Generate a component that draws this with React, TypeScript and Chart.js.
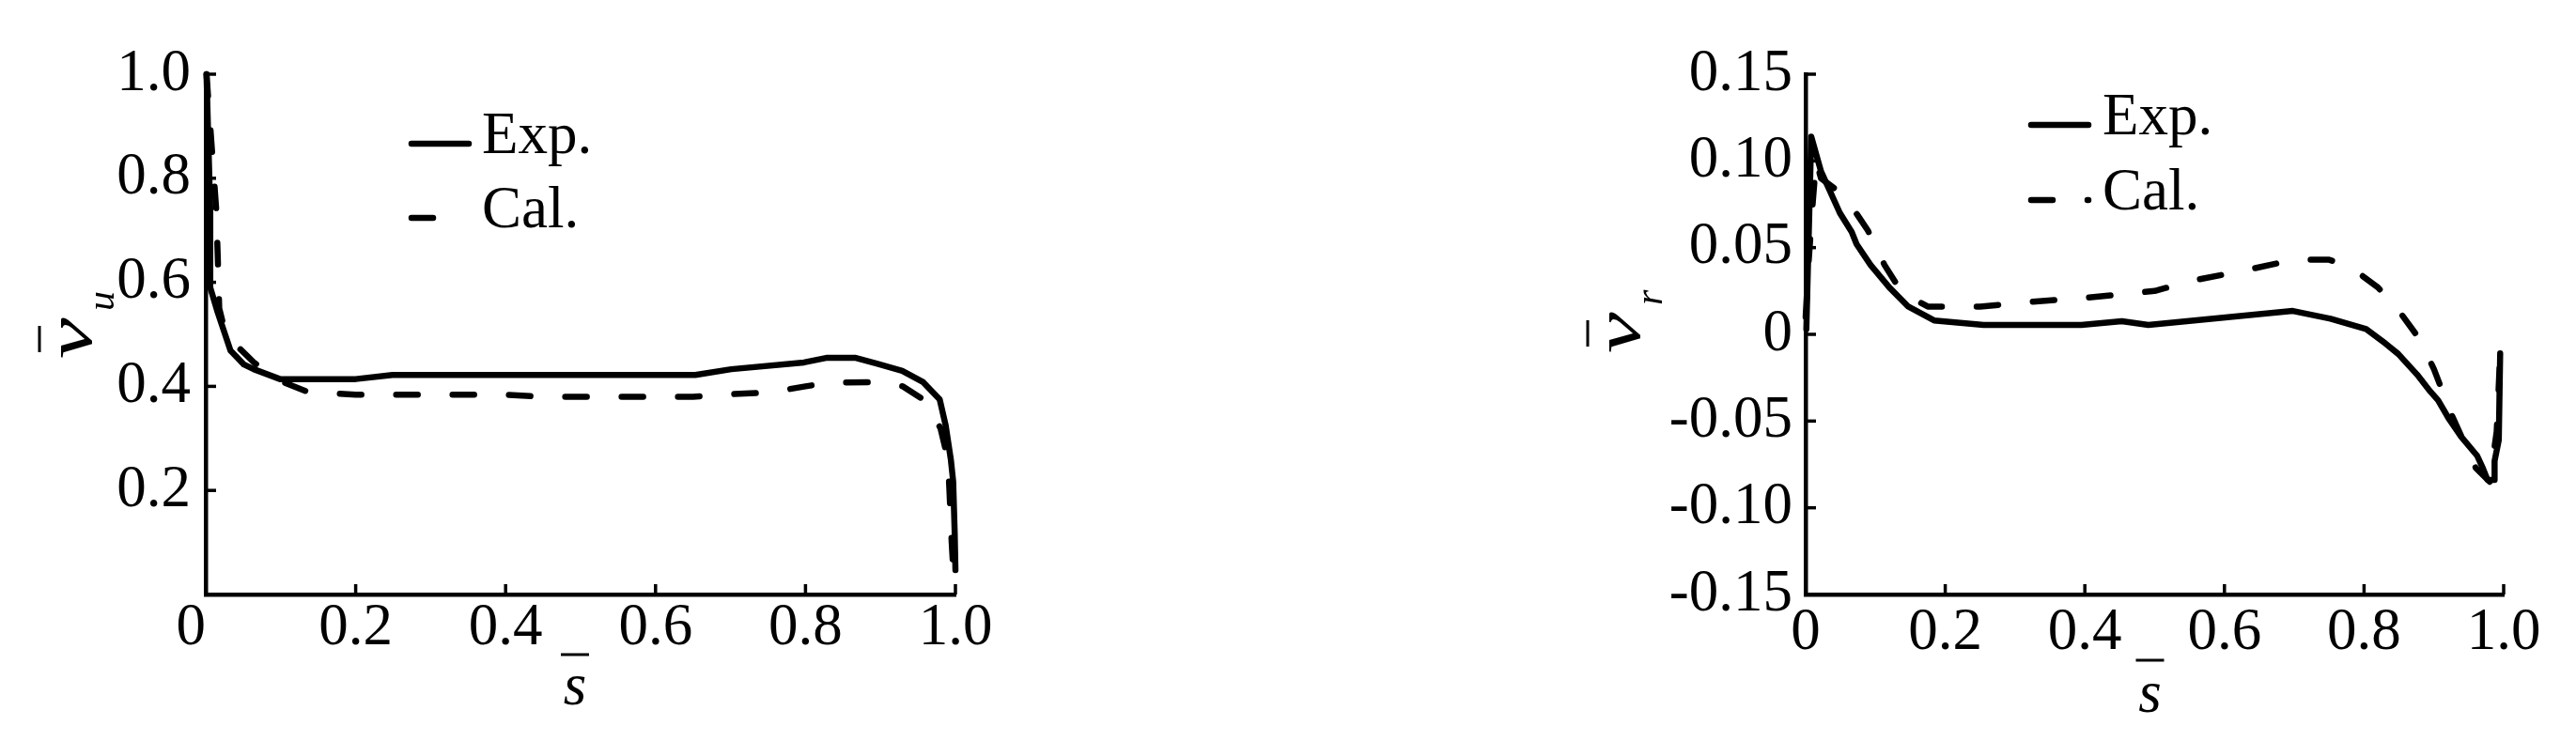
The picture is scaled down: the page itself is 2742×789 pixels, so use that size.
import React, { useEffect, useRef } from 'react';
import { Chart, registerables } from 'chart.js';
Chart.register(...registerables);

const FONT = "'Liberation Serif', 'Times New Roman', serif";

// ---- left panel: circumferential velocity  v_u ----
const uExpS = [0.001, 0.006, 0.006, 0.016, 0.033, 0.051, 0.064, 0.099, 0.2, 0.249, 0.653, 0.701, 0.798, 0.829, 0.866, 0.895, 0.929, 0.957, 0.979, 0.987, 0.994, 0.997, 0.999, 1.0];
const uExpV = [1.0, 0.74, 0.59, 0.542, 0.469, 0.442, 0.433, 0.414, 0.414, 0.422, 0.422, 0.433, 0.446, 0.455, 0.455, 0.444, 0.43, 0.408, 0.375, 0.325, 0.258, 0.217, 0.119, 0.047];
const uCalS = [0.001, 0.014, 0.016, 0.018, 0.025, 0.04, 0.065, 0.1, 0.135, 0.2, 0.3, 0.4, 0.45, 0.5, 0.6, 0.65, 0.7, 0.75, 0.8, 0.83, 0.89, 0.93, 0.957, 0.98, 0.99, 0.992, 0.995, 0.997];
const uCalV = [1.0, 0.74, 0.65, 0.55, 0.51, 0.48, 0.445, 0.41, 0.39, 0.384, 0.384, 0.384, 0.38, 0.38, 0.38, 0.38, 0.385, 0.388, 0.4, 0.407, 0.408, 0.4, 0.375, 0.32, 0.26, 0.2, 0.1, 0.05];

// ---- right panel: radial velocity  v_r ----
const rExpS = [0.001, 0.008, 0.022, 0.049, 0.066, 0.073, 0.093, 0.12, 0.147, 0.184, 0.255, 0.395, 0.453, 0.491, 0.698, 0.752, 0.803, 0.831, 0.849, 0.876, 0.895, 0.906, 0.922, 0.939, 0.962, 0.97, 0.977, 0.987, 0.987, 0.993, 0.995];
const rExpV = [0.003, 0.114, 0.094, 0.07, 0.059, 0.052, 0.04, 0.027, 0.016, 0.008, 0.0054, 0.0054, 0.0076, 0.0054, 0.0135, 0.009, 0.003, -0.0054, -0.0113, -0.0232, -0.033, -0.038, -0.049, -0.059, -0.07, -0.077, -0.084, -0.084, -0.073, -0.061, -0.011];
const rCalS = [0.0, 0.004, 0.01, 0.015, 0.022, 0.045, 0.074, 0.089, 0.113, 0.138, 0.175, 0.215, 0.25, 0.33, 0.4, 0.45, 0.5, 0.555, 0.63, 0.7, 0.75, 0.78, 0.82, 0.85, 0.88, 0.9, 0.925, 0.96, 0.98, 0.99, 0.995];
const rCalV = [0.01, 0.04, 0.075, 0.1, 0.09, 0.083, 0.069, 0.06, 0.04, 0.024, 0.016, 0.016, 0.016, 0.019, 0.021, 0.023, 0.025, 0.031, 0.037, 0.043, 0.043, 0.039, 0.027, 0.0135, -0.003, -0.02, -0.046, -0.077, -0.085, -0.056, -0.011];

const seriesLabels = ['Exp.', 'Cal.'];

const zip = (xs: number[], ys: number[]) => xs.map((x, i) => ({ x, y: ys[i] }));

const decorPlugin = {
  id: 'decor',
  afterDraw(chart: any, _args: any, o: any) {
    const { ctx, chartArea: ca, scales } = chart;
    const xs = scales.x;
    const ys = scales.y;
    ctx.save();
    ctx.strokeStyle = '#000';
    ctx.fillStyle = '#000';
    // inward tick marks
    ctx.lineWidth = 3.5;
    ctx.lineCap = 'butt';
    ys.ticks.forEach((t: any) => {
      const py = ys.getPixelForValue(t.value);
      ctx.beginPath();
      ctx.moveTo(ca.left, py);
      ctx.lineTo(ca.left + o.tickLen, py);
      ctx.stroke();
    });
    xs.ticks.forEach((t: any) => {
      const px = xs.getPixelForValue(t.value);
      ctx.beginPath();
      ctx.moveTo(px, ca.bottom);
      ctx.lineTo(px, ca.bottom - o.tickLen);
      ctx.stroke();
    });
    // legend
    const lg = o.legend;
    ctx.font = `63px ${FONT}`;
    ctx.textAlign = 'left';
    ctx.textBaseline = 'alphabetic';
    chart.data.datasets.forEach((ds: any, i: number) => {
      const ly = ca.top + lg.dy + i * lg.rowGap;
      const lx = ca.left + lg.dx;
      ctx.save();
      ctx.lineWidth = ds.borderWidth;
      ctx.lineCap = 'round';
      ctx.setLineDash(ds.borderDash || []);
      ctx.beginPath();
      ctx.moveTo(lx, ly);
      ctx.lineTo(lx + (ds.borderDash ? lg.dashLen : lg.solidLen), ly);
      ctx.stroke();
      ctx.restore();
      ctx.fillText(ds.label, ca.left + lg.textDx, ly + 10);
    });
    // x title: s with overbar
    const xt = o.xTitle;
    const cx = (ca.left + ca.right) / 2 + xt.dx;
    ctx.lineWidth = 3;
    ctx.beginPath();
    ctx.moveTo(cx - 15, ca.bottom + xt.barDy);
    ctx.lineTo(cx + 15, ca.bottom + xt.barDy);
    ctx.stroke();
    ctx.font = `italic 63px ${FONT}`;
    ctx.textAlign = 'center';
    ctx.fillText('s', cx, ca.bottom + xt.sDy);
    // y title: v with overbar and subscript
    const yt = o.yTitle;
    const barX = ca.left + yt.barDx;
    ctx.save();
    ctx.translate(barX + 55, yt.Y);
    ctx.rotate(-Math.PI / 2);
    ctx.textAlign = 'left';
    ctx.beginPath();
    ctx.moveTo(7, -55);
    ctx.lineTo(35, -55);
    ctx.stroke();
    ctx.save();
    ctx.scale(1.4, 1);
    ctx.font = `italic 70px ${FONT}`;
    ctx.fillText('v', 0, 0);
    ctx.restore();
    ctx.font = `italic 42px ${FONT}`;
    ctx.fillText(yt.sub, 51, 24);
    ctx.restore();
    ctx.restore();
  },
};

function makeConfig(p: any) {
  const common = {
    borderColor: '#000',
    borderWidth: 6.5,
    pointRadius: 0,
    tension: 0,
    borderJoinStyle: 'round',
    borderCapStyle: 'round',
    clip: false,
    fill: false,
  };
  const tickFont = { family: FONT, size: 63, lineHeight: 1 };
  return {
    type: 'line',
    data: {
      datasets: [
        { ...common, label: seriesLabels[0], data: zip(p.expS, p.expV) },
        { ...common, label: seriesLabels[1], data: zip(p.calS, p.calV), borderDash: [23, 37] },
      ],
    },
    options: {
      responsive: false,
      animation: false,
      devicePixelRatio: 1,
      events: [],
      layout: { padding: p.padding },
      plugins: {
        legend: { display: false },
        tooltip: { enabled: false },
        decor: p.decor,
      },
      scales: {
        x: {
          type: 'linear',
          min: 0,
          max: 1,
          border: { display: true, color: '#000', width: 4.5 },
          grid: { display: false, drawTicks: false },
          afterFit: (s: any) => { s.height = 100; },
          ticks: {
            stepSize: 0.2,
            autoSkip: false,
            maxRotation: 0,
            minRotation: 0,
            color: '#000',
            font: tickFont,
            padding: p.xPad,
            callback: (v: number) => (Math.abs(v) < 1e-9 ? p.xZero : v.toFixed(1)),
          },
        },
        y: {
          type: 'linear',
          min: p.yMin,
          max: p.yMax,
          border: { display: true, color: '#000', width: 4.5 },
          grid: { display: false, drawTicks: false },
          afterFit: (s: any) => { s.width = p.yAxisWidth; },
          ticks: {
            stepSize: p.yStep,
            autoSkip: false,
            color: '#000',
            font: tickFont,
            padding: p.yPad,
            callback: p.yFmt,
          },
        },
      },
    },
    plugins: [decorPlugin],
  };
}

const leftPanel = {
  expS: uExpS, expV: uExpV, calS: uCalS, calV: uCalV,
  yMin: 0, yMax: 1, yStep: 0.2,
  yFmt: (v: number) => (Math.abs(v) < 1e-9 ? '' : v.toFixed(1)),
  xZero: '0  ',
  padding: { left: 69, right: 354, top: 79, bottom: 56 },
  yAxisWidth: 150, yPad: 16, xPad: 5,
  decor: {
    tickLen: 11,
    legend: { dx: 219, dy: 74, textDx: 294, rowGap: 79, solidLen: 61, dashLen: 50 },
    xTitle: { dx: -6, barDy: 64, sDy: 117 },
    yTitle: { barDx: -177, Y: 382, sub: 'u' },
  },
};

const rightPanel = {
  expS: rExpS, expV: rExpV, calS: rCalS, calV: rCalV,
  yMin: -0.15, yMax: 0.15, yStep: 0.05,
  yFmt: (v: number) => (Math.abs(v) < 1e-9 ? '0' : v.toFixed(2)),
  xZero: '0',
  padding: { left: 351, right: 77, top: 79, bottom: 56 },
  yAxisWidth: 200, yPad: 14, xPad: 10,
  decor: {
    tickLen: 11,
    legend: { dx: 240, dy: 54, textDx: 316, rowGap: 80, solidLen: 61, dashLen: 61 },
    xTitle: { dx: -5, barDy: 70, sDy: 125 },
    yTitle: { barDx: -232, Y: 376, sub: 'r' },
  },
};

export default function App() {
  const leftRef = useRef<HTMLCanvasElement>(null);
  const rightRef = useRef<HTMLCanvasElement>(null);
  useEffect(() => {
    const c1 = new Chart(leftRef.current as HTMLCanvasElement, makeConfig(leftPanel) as any);
    const c2 = new Chart(rightRef.current as HTMLCanvasElement, makeConfig(rightPanel) as any);
    return () => {
      c1.destroy();
      c2.destroy();
    };
  }, []);
  return (
    <div style={{ position: 'fixed', left: 0, top: 0, width: 2742, height: 789, background: '#fff' }}>
      <canvas ref={leftRef} width={1371} height={789} style={{ position: 'absolute', left: 0, top: 0, width: 1371, height: 789 }} />
      <canvas ref={rightRef} width={1371} height={789} style={{ position: 'absolute', left: 1371, top: 0, width: 1371, height: 789 }} />
    </div>
  );
}
